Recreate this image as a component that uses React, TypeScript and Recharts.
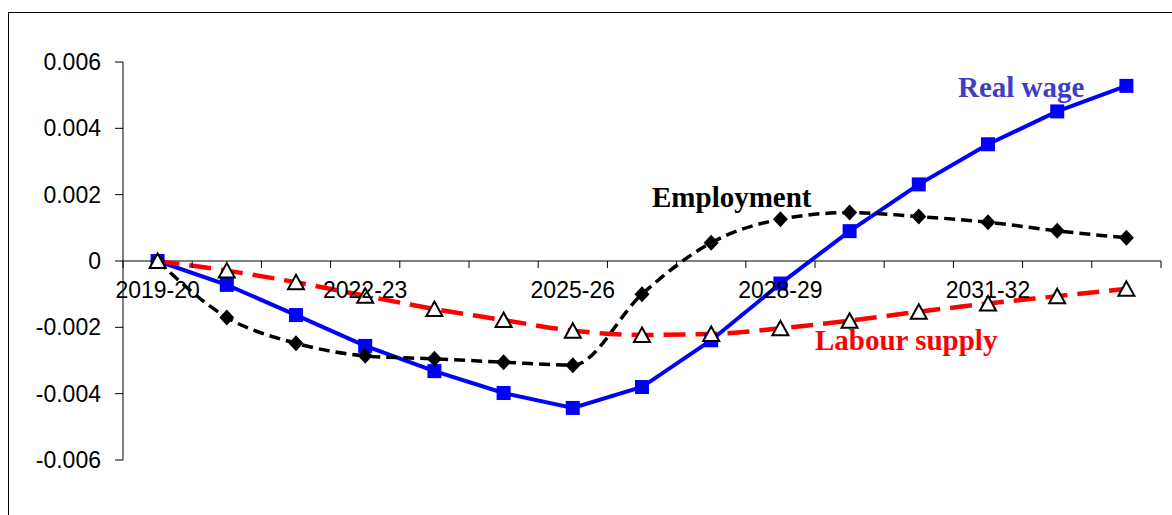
import React from 'react';
import { LineChart, Line, XAxis, YAxis, ReferenceLine } from 'recharts';

const years = [
  '2019-20', '2020-21', '2021-22', '2022-23', '2023-24', '2024-25', '2025-26', '2026-27',
  '2027-28', '2028-29', '2029-30', '2030-31', '2031-32', '2032-33', '2033-34',
];

const realWage = [
  0, -0.00072, -0.00163, -0.00256, -0.00332, -0.00398, -0.00443, -0.0038,
  -0.00239, -0.00068, 0.0009, 0.00231, 0.00352, 0.00451, 0.00528,
];

const employment = [
  0, -0.0017, -0.00248, -0.00286, -0.00295, -0.00305, -0.00314, -0.001,
  0.00055, 0.00126, 0.00146, 0.00134, 0.00117, 0.00091, 0.0007,
];

const labourSupply = [
  0, -0.00029, -0.00064, -0.00105, -0.00145, -0.00178, -0.0021, -0.00223,
  -0.0022, -0.00203, -0.0018, -0.00153, -0.00128, -0.00106, -0.00084,
];

const yTicks = [-0.006, -0.004, -0.002, 0, 0.002, 0.004, 0.006];
const labelEvery = 3;

const W = 1172;
const H = 515;
const PLOT_TOP = 62;
const PLOT_BOTTOM = 460;
const ZERO_Y = PLOT_TOP + (PLOT_BOTTOM - PLOT_TOP) / 2;

const rows = years.map((year, i) => ({
  i,
  year,
  realWage: realWage[i],
  employment: employment[i],
  labourSupply: labourSupply[i],
}));

// ticks on category boundaries (marks) and centres (labels)
const xTicks = years.flatMap((_, i) => [i - 0.5, i]).concat(years.length - 0.5);

const sans = '"Liberation Sans", Arial, sans-serif';
const serif = '"Liberation Serif", "Times New Roman", serif';

const XTick = (props: any) => {
  const { x, payload } = props;
  const v = payload.value;
  if (Number.isInteger(v)) {
    if (v % labelEvery !== 0) return <g />;
    return (
      <text x={x} y={ZERO_Y + 37} textAnchor="middle" fontSize={23} fontFamily={sans} fill="#000">
        {years[v]}
      </text>
    );
  }
  return <line x1={x} x2={x} y1={ZERO_Y} y2={ZERO_Y + 7} stroke="#000" strokeWidth={1} />;
};

const Square = ({ cx, cy }: any) =>
  cx == null ? <g /> : <rect x={cx - 7} y={cy - 7} width={14} height={14} fill="#0000FF" />;

const Diamond = ({ cx, cy }: any) =>
  cx == null ? (
    <g />
  ) : (
    <polygon points={`${cx},${cy - 8} ${cx + 7.5},${cy} ${cx},${cy + 8} ${cx - 7.5},${cy}`} fill="#000" />
  );

const Triangle = ({ cx, cy }: any) =>
  cx == null ? (
    <g />
  ) : (
    <polygon
      points={`${cx},${cy - 7.5} ${cx + 8},${cy + 7} ${cx - 8},${cy + 7}`}
      fill="#fff"
      stroke="#000"
      strokeWidth={2}
    />
  );

export default function App() {
  return (
    <div style={{ position: 'fixed', left: 0, top: 0, width: W, height: H, overflow: 'hidden', background: '#fff' }}>
      {/* outer frame, only top and left edges fall inside the picture */}
      <div style={{ position: 'absolute', left: 8, top: 12, width: 1400, height: 800, border: '1px solid #000' }} />

      <div style={{ position: 'absolute', left: 0, top: 0 }}>
        <LineChart
          width={W}
          height={H}
          data={rows}
          margin={{ top: PLOT_TOP, right: 11, left: 0, bottom: H - PLOT_BOTTOM - 30 }}
        >
          <XAxis
            dataKey="i"
            type="number"
            domain={[-0.5, years.length - 0.5]}
            ticks={xTicks}
            interval={0}
            axisLine={false}
            tickLine={false}
            height={30}
            tick={(p: any) => <XTick {...p} />}
          />
          <YAxis
            type="number"
            domain={[-0.006, 0.006]}
            ticks={yTicks}
            interval={0}
            width={123}
            tickSize={8}
            tickMargin={14}
            axisLine={{ stroke: '#000' }}
            tickLine={{ stroke: '#000' }}
            tick={{ fontSize: 23, fontFamily: sans, fill: '#000' }}
            tickFormatter={(v: number) => (v === 0 ? '0' : v.toFixed(3))}
          />
          <ReferenceLine y={0} stroke="#000" strokeWidth={1} />
          <Line
            dataKey="realWage"
            type="linear"
            stroke="#0000FF"
            strokeWidth={4}
            dot={(p: any) => <Square key={`s${p.index}`} {...p} />}
            isAnimationActive={false}
          />
          <Line
            dataKey="employment"
            type="monotone"
            stroke="#000"
            strokeWidth={3.5}
            strokeDasharray="11 6"
            dot={(p: any) => <Diamond key={`d${p.index}`} {...p} />}
            isAnimationActive={false}
          />
          <Line
            dataKey="labourSupply"
            type="monotone"
            stroke="#FF0000"
            strokeWidth={4.5}
            strokeDasharray="22 10"
            dot={(p: any) => <Triangle key={`t${p.index}`} {...p} />}
            isAnimationActive={false}
          />
        </LineChart>
      </div>

      <svg width={W} height={H} style={{ position: 'absolute', left: 0, top: 0, pointerEvents: 'none' }}>
        <text x={958} y={97} fontFamily={serif} fontWeight="bold" fontSize={29} fill="#3d3dc6">
          Real wage
        </text>
        <text x={652} y={207} fontFamily={serif} fontWeight="bold" fontSize={29} fill="#000">
          Employment
        </text>
        <text x={815} y={350} fontFamily={serif} fontWeight="bold" fontSize={29} fill="#FF0000">
          Labour supply
        </text>
      </svg>
    </div>
  );
}
